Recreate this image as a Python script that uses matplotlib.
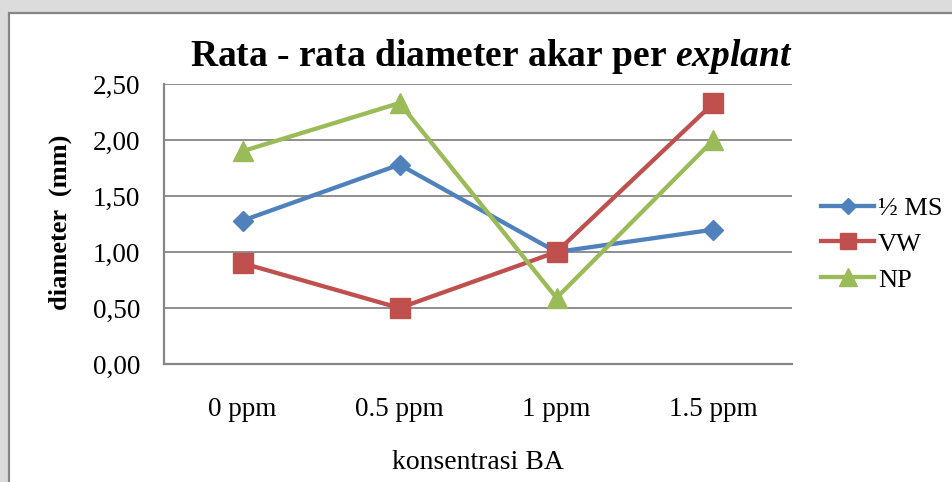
import matplotlib
matplotlib.use("Agg")
import matplotlib.pyplot as plt
from matplotlib.patches import Rectangle
from matplotlib.ticker import FuncFormatter

categories = ["0 ppm", "0.5 ppm", "1 ppm", "1.5 ppm"]
half_ms = [1.28, 1.78, 1.00, 1.20]
vw = [0.90, 0.50, 1.00, 2.33]
np_vals = [1.90, 2.33, 0.59, 2.00]
series_names = ["½ MS", "VW", "NP"]
y_ticks = [0.0, 0.5, 1.0, 1.5, 2.0, 2.5]

plt.rcParams['font.family'] = ['Liberation Serif', 'DejaVu Serif']
plt.rcParams['mathtext.fontset'] = 'custom'
plt.rcParams['mathtext.it'] = 'Liberation Serif:italic:bold'
plt.rcParams['mathtext.rm'] = 'Liberation Serif:bold'
plt.rcParams['mathtext.bf'] = 'Liberation Serif:bold'

W, H = 952, 482
fig = plt.figure(figsize=(W / 100, H / 100), dpi=100)
fig.patch.set_facecolor('#dcdcdc')

# chart area box
fig.patches.append(Rectangle((8.5 / W, -0.05), 1.2, (H - 12.5) / H + 0.05,
                             transform=fig.transFigure, facecolor='white',
                             edgecolor='#868686', linewidth=1.6, zorder=-5))

ax = fig.add_axes([164 / W, (H - 364) / H, (792 - 164) / W, (364 - 84) / H])
ax.set_zorder(2)
ax.set_facecolor('none')
x = list(range(len(categories)))

ax.plot(x, half_ms, color='#4F81BD', lw=3.1, marker='D', ms=10.3,
        label=series_names[0], zorder=3)
ax.plot(x, vw, color='#C0504D', lw=3.1, marker='s', ms=14.4,
        label=series_names[1], zorder=3)
ax.plot(x, np_vals, color='#9BBB59', lw=3.1, marker='^', ms=14.6,
        label=series_names[2], zorder=3)

ax.set_xlim(-0.5, len(categories) - 0.5)
ax.set_ylim(0, 2.5)
ax.set_yticks(y_ticks)
ax.yaxis.set_major_formatter(FuncFormatter(lambda v, p: f"{v:.2f}".replace('.', ',')))
ax.set_xticks(x)
ax.set_xticklabels(categories)
ax.tick_params(length=0, labelsize=19.5)
ax.tick_params(axis='y', pad=17)
ax.tick_params(axis='x', pad=24)
ax.grid(axis='y', color='#868686', lw=1.3)
ax.set_axisbelow(True)
for s in ['top', 'right']:
    ax.spines[s].set_visible(False)
for s in ['left', 'bottom']:
    ax.spines[s].set_color('#868686')
    ax.spines[s].set_linewidth(1.6)

ax.set_xlabel("konsentrasi BA", fontsize=20, labelpad=20)
fig.text(60 / W, 1 - 222 / H, "diameter  (mm)", rotation=90, fontsize=19,
         fontweight='bold', ha='center', va='center')

fig.text(491 / W, 1 - 57 / H, "Rata - rata diameter akar per $\\mathit{explant}$",
         fontsize=27, fontweight='bold', ha='center', va='center')

leg = fig.legend(loc='center left', bbox_to_anchor=(808 / W, 1 - 244 / H),
                 frameon=False, fontsize=19, handlelength=2.0,
                 handletextpad=0.15, labelspacing=0.47, borderpad=0)
for h, ms in zip(leg.legend_handles, [7.8, 11.5, 13]):
    h.set_markersize(ms)

fig.savefig("out.png", dpi=100, facecolor=fig.get_facecolor())
